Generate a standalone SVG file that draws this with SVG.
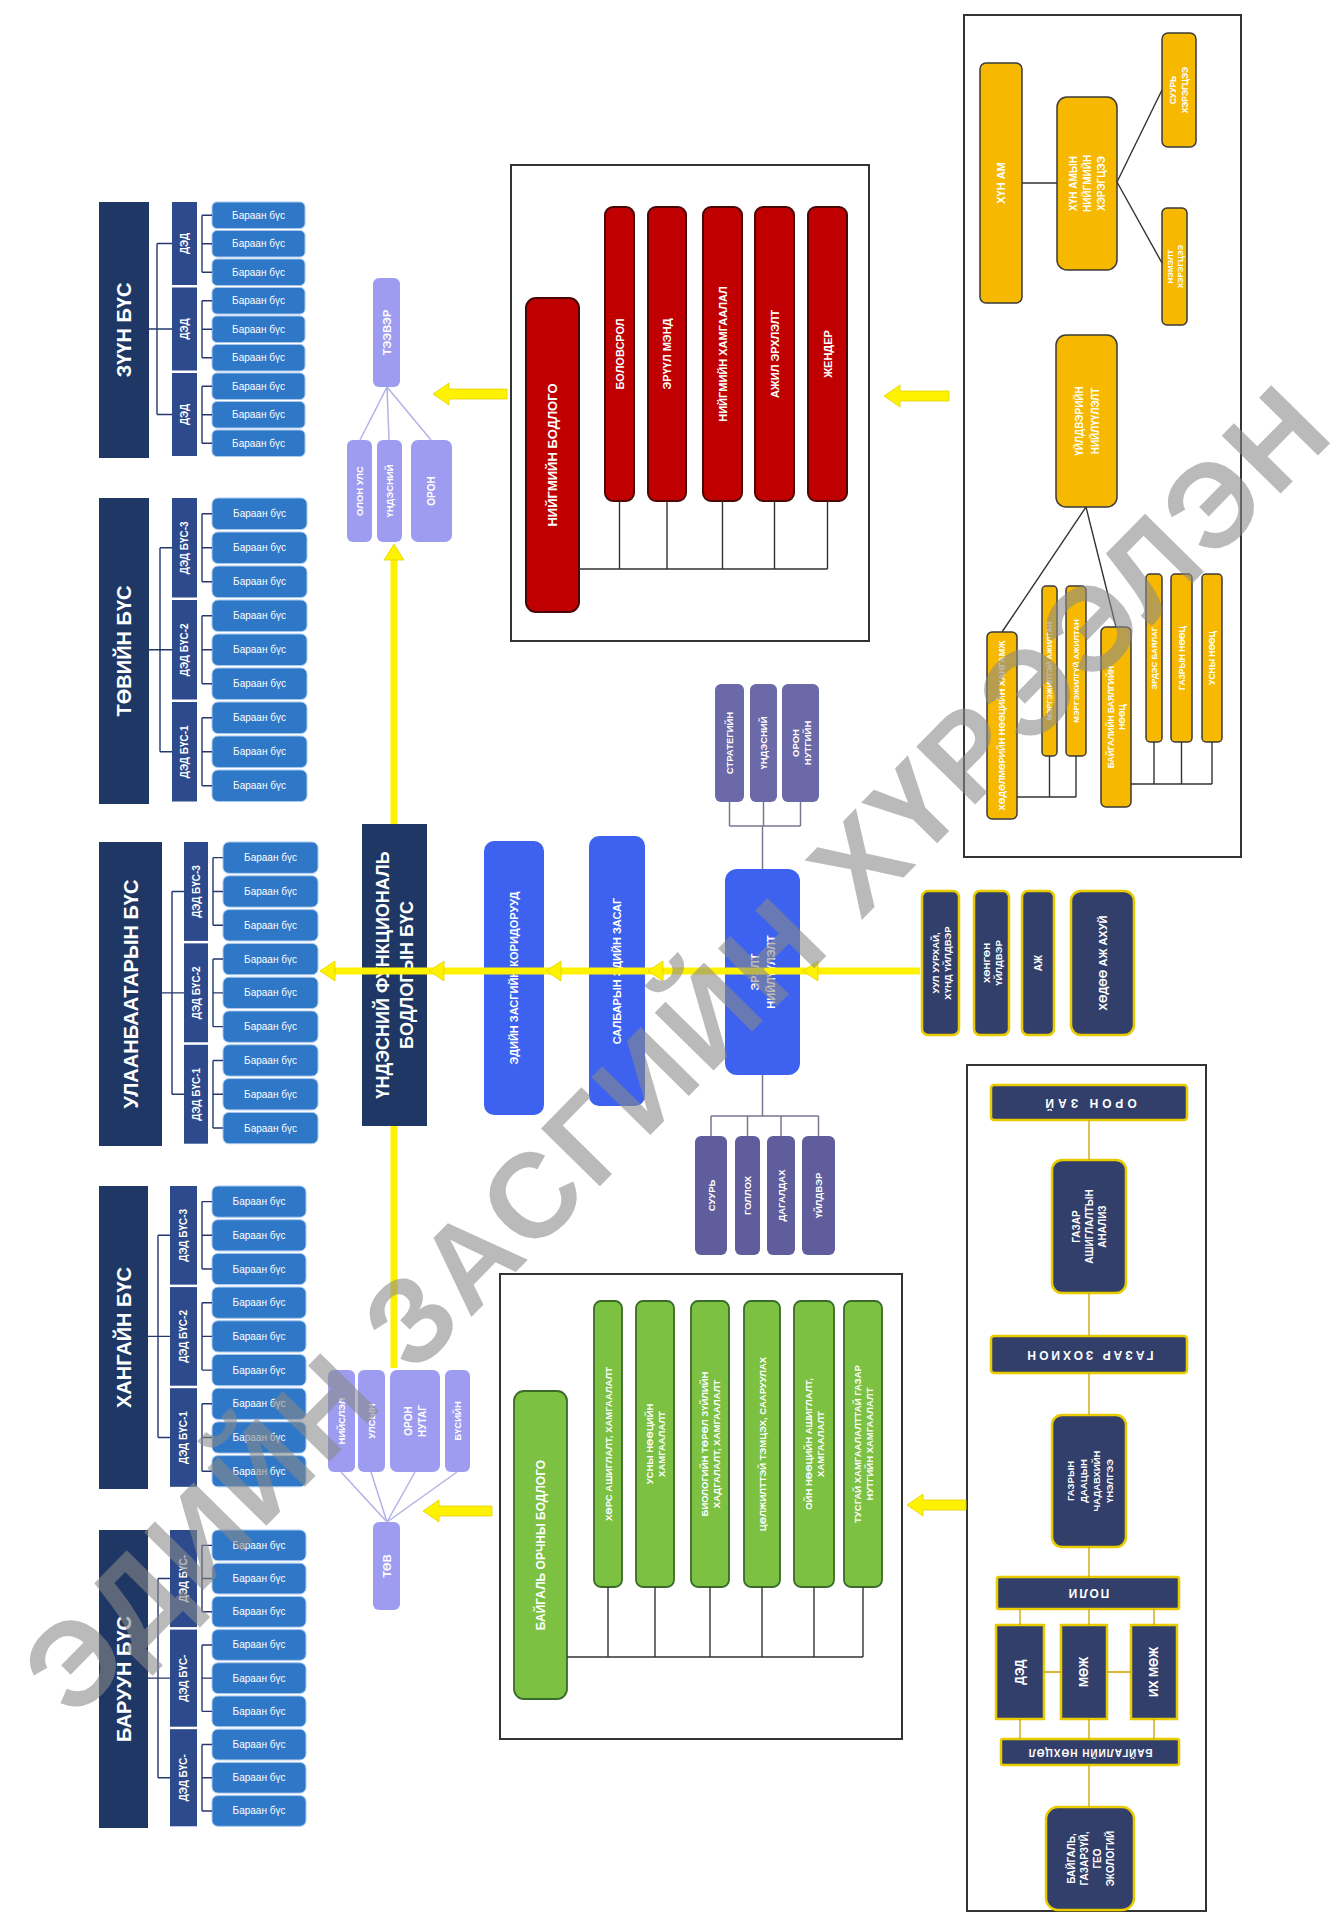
<svg xmlns="http://www.w3.org/2000/svg" width="1340" height="1914" viewBox="0 0 1340 1914">
<style>
.t{font-family:"Liberation Sans",Arial,sans-serif;fill:#fff;font-weight:bold;text-anchor:middle;dominant-baseline:central}
.s{font-weight:normal}
.zb{fill:#1e3765}
.dd{fill:#2c4a8c}
.sb{fill:#2f78c8;stroke:#a8c8ee;stroke-width:1}
.lz{stroke:#24386f;stroke-width:1.4;fill:none}
.lv{fill:#9d9cf0}
.sl{fill:#6b69a8}
.sl2{fill:#5f5d9c}
.bl{fill:#3c62ef}
.rd{fill:#c00000;stroke:#4a0505;stroke-width:2}
.gd{fill:#f7b900;stroke:#3a3a3a;stroke-width:1.5}
.gr{fill:#7cc142;stroke:#3b6b28;stroke-width:1.8}
.nv{fill:#333f6b;stroke:#e8cc00;stroke-width:2.5}
.fr{fill:#fff;stroke:#333;stroke-width:2}
.ln{stroke:#333;stroke-width:1.4;fill:none}
.lg{stroke:#c9a400;stroke-width:1.3;fill:none}
.lp{stroke:#b3b2e6;stroke-width:1.5;fill:none}
.lq{stroke:#777894;stroke-width:1.5;fill:none}
.yl{stroke:#fff200;stroke-width:7;fill:none}
.ya{fill:#fff200;stroke:#e2d200;stroke-width:0.8}
.wm{font-family:"Liberation Sans",Arial,sans-serif;font-weight:bold;fill:#8a8a8a;opacity:.58;text-anchor:middle;dominant-baseline:central}
</style>
<rect x="0" y="0" width="1340" height="1914" fill="#fff"/>

<g id="panels">
<rect id="panel-social" class="fr" x="511" y="165" width="358" height="476"/>
<rect id="panel-population" class="fr" x="964" y="15" width="277" height="842"/>
<rect id="panel-environment" class="fr" x="500" y="1274" width="402" height="465"/>
<rect id="panel-space" class="fr" x="967" y="1065" width="239" height="846"/>
</g>

<!-- ЗҮҮН БҮС -->
<g id="zone-zuun"><rect class="zb" x="99" y="202" width="50" height="256"/><text class="t" font-size="20" transform="translate(124 330) rotate(-90)">ЗҮҮН БҮС</text></g>
<g id="zuun-ded1"><rect class="dd" x="172" y="202" width="25" height="83"/><text class="t" font-size="10" transform="translate(184.5 243.5) rotate(-90)">ДЭД</text></g>
<g id="zuun-ded2"><rect class="dd" x="172" y="287.5" width="25" height="83"/><text class="t" font-size="10" transform="translate(184.5 329) rotate(-90)">ДЭД</text></g>
<g id="zuun-ded3"><rect class="dd" x="172" y="373" width="25" height="83"/><text class="t" font-size="10" transform="translate(184.5 414.5) rotate(-90)">ДЭД</text></g>
<g id="zuun-s1"><rect class="sb" x="212" y="202" width="93" height="26.5" rx="5"/><text class="t s" font-size="10" x="258.5" y="215.25">Бараан бүс</text></g>
<g id="zuun-s2"><rect class="sb" x="212" y="230.5" width="93" height="26.5" rx="5"/><text class="t s" font-size="10" x="258.5" y="243.75">Бараан бүс</text></g>
<g id="zuun-s3"><rect class="sb" x="212" y="259" width="93" height="26.5" rx="5"/><text class="t s" font-size="10" x="258.5" y="272.25">Бараан бүс</text></g>
<g id="zuun-s4"><rect class="sb" x="212" y="287.5" width="93" height="26.5" rx="5"/><text class="t s" font-size="10" x="258.5" y="300.75">Бараан бүс</text></g>
<g id="zuun-s5"><rect class="sb" x="212" y="316" width="93" height="26.5" rx="5"/><text class="t s" font-size="10" x="258.5" y="329.25">Бараан бүс</text></g>
<g id="zuun-s6"><rect class="sb" x="212" y="344.5" width="93" height="26.5" rx="5"/><text class="t s" font-size="10" x="258.5" y="357.75">Бараан бүс</text></g>
<g id="zuun-s7"><rect class="sb" x="212" y="373" width="93" height="26.5" rx="5"/><text class="t s" font-size="10" x="258.5" y="386.25">Бараан бүс</text></g>
<g id="zuun-s8"><rect class="sb" x="212" y="401.5" width="93" height="26.5" rx="5"/><text class="t s" font-size="10" x="258.5" y="414.75">Бараан бүс</text></g>
<g id="zuun-s9"><rect class="sb" x="212" y="430" width="93" height="26.5" rx="5"/><text class="t s" font-size="10" x="258.5" y="443.25">Бараан бүс</text></g>

<!-- ТӨВИЙН БҮС -->
<g id="zone-tuv"><rect class="zb" x="99" y="498" width="50" height="306"/><text class="t" font-size="20" transform="translate(124 651) rotate(-90)">ТӨВИЙН БҮС</text></g>
<g id="tuv-ded3"><rect class="dd" x="172" y="498" width="25" height="99.5"/><text class="t" font-size="10" transform="translate(184.5 547.75) rotate(-90)">ДЭД БҮС-3</text></g>
<g id="tuv-ded2"><rect class="dd" x="172" y="600" width="25" height="99.5"/><text class="t" font-size="10" transform="translate(184.5 649.75) rotate(-90)">ДЭД БҮС-2</text></g>
<g id="tuv-ded1"><rect class="dd" x="172" y="702" width="25" height="99.5"/><text class="t" font-size="10" transform="translate(184.5 751.75) rotate(-90)">ДЭД БҮС-1</text></g>
<g id="tuv-s1"><rect class="sb" x="212" y="498" width="95" height="31.5" rx="6"/><text class="t s" font-size="10" x="259.5" y="513.75">Бараан бүс</text></g>
<g id="tuv-s2"><rect class="sb" x="212" y="532" width="95" height="31.5" rx="6"/><text class="t s" font-size="10" x="259.5" y="547.75">Бараан бүс</text></g>
<g id="tuv-s3"><rect class="sb" x="212" y="566" width="95" height="31.5" rx="6"/><text class="t s" font-size="10" x="259.5" y="581.75">Бараан бүс</text></g>
<g id="tuv-s4"><rect class="sb" x="212" y="600" width="95" height="31.5" rx="6"/><text class="t s" font-size="10" x="259.5" y="615.75">Бараан бүс</text></g>
<g id="tuv-s5"><rect class="sb" x="212" y="634" width="95" height="31.5" rx="6"/><text class="t s" font-size="10" x="259.5" y="649.75">Бараан бүс</text></g>
<g id="tuv-s6"><rect class="sb" x="212" y="668" width="95" height="31.5" rx="6"/><text class="t s" font-size="10" x="259.5" y="683.75">Бараан бүс</text></g>
<g id="tuv-s7"><rect class="sb" x="212" y="702" width="95" height="31.5" rx="6"/><text class="t s" font-size="10" x="259.5" y="717.75">Бараан бүс</text></g>
<g id="tuv-s8"><rect class="sb" x="212" y="736" width="95" height="31.5" rx="6"/><text class="t s" font-size="10" x="259.5" y="751.75">Бараан бүс</text></g>
<g id="tuv-s9"><rect class="sb" x="212" y="770" width="95" height="31.5" rx="6"/><text class="t s" font-size="10" x="259.5" y="785.75">Бараан бүс</text></g>

<!-- УЛААНБААТАРЫН БҮС -->
<g id="zone-ub"><rect class="zb" x="99" y="842" width="63" height="304"/><text class="t" font-size="20" transform="translate(130.5 994) rotate(-90)">УЛААНБААТАРЫН БҮС</text></g>
<g id="ub-ded3"><rect class="dd" x="184" y="842" width="24" height="98.9"/><text class="t" font-size="10" transform="translate(196 891.45) rotate(-90)">ДЭД БҮС-3</text></g>
<g id="ub-ded2"><rect class="dd" x="184" y="943.4" width="24" height="98.9"/><text class="t" font-size="10" transform="translate(196 992.85) rotate(-90)">ДЭД БҮС-2</text></g>
<g id="ub-ded1"><rect class="dd" x="184" y="1044.8" width="24" height="98.9"/><text class="t" font-size="10" transform="translate(196 1094.25) rotate(-90)">ДЭД БҮС-1</text></g>
<g id="ub-s1"><rect class="sb" x="223" y="842" width="95" height="31.3" rx="6"/><text class="t s" font-size="10" x="270.5" y="857.65">Бараан бүс</text></g>
<g id="ub-s2"><rect class="sb" x="223" y="875.8" width="95" height="31.3" rx="6"/><text class="t s" font-size="10" x="270.5" y="891.45">Бараан бүс</text></g>
<g id="ub-s3"><rect class="sb" x="223" y="909.6" width="95" height="31.3" rx="6"/><text class="t s" font-size="10" x="270.5" y="925.25">Бараан бүс</text></g>
<g id="ub-s4"><rect class="sb" x="223" y="943.4" width="95" height="31.3" rx="6"/><text class="t s" font-size="10" x="270.5" y="959.05">Бараан бүс</text></g>
<g id="ub-s5"><rect class="sb" x="223" y="977.2" width="95" height="31.3" rx="6"/><text class="t s" font-size="10" x="270.5" y="992.85">Бараан бүс</text></g>
<g id="ub-s6"><rect class="sb" x="223" y="1011" width="95" height="31.3" rx="6"/><text class="t s" font-size="10" x="270.5" y="1026.65">Бараан бүс</text></g>
<g id="ub-s7"><rect class="sb" x="223" y="1044.8" width="95" height="31.3" rx="6"/><text class="t s" font-size="10" x="270.5" y="1060.45">Бараан бүс</text></g>
<g id="ub-s8"><rect class="sb" x="223" y="1078.6" width="95" height="31.3" rx="6"/><text class="t s" font-size="10" x="270.5" y="1094.25">Бараан бүс</text></g>
<g id="ub-s9"><rect class="sb" x="223" y="1112.4" width="95" height="31.3" rx="6"/><text class="t s" font-size="10" x="270.5" y="1128.05">Бараан бүс</text></g>

<!-- ХАНГАЙН БҮС -->
<g id="zone-khangai"><rect class="zb" x="99" y="1186" width="49" height="303"/><text class="t" font-size="20" transform="translate(123.5 1337.5) rotate(-90)">ХАНГАЙН БҮС</text></g>
<g id="khangai-ded3"><rect class="dd" x="170" y="1186" width="27" height="98.6"/><text class="t" font-size="10" transform="translate(183.5 1235.3) rotate(-90)">ДЭД БҮС-3</text></g>
<g id="khangai-ded2"><rect class="dd" x="170" y="1287.1" width="27" height="98.6"/><text class="t" font-size="10" transform="translate(183.5 1336.4) rotate(-90)">ДЭД БҮС-2</text></g>
<g id="khangai-ded1"><rect class="dd" x="170" y="1388.2" width="27" height="98.6"/><text class="t" font-size="10" transform="translate(183.5 1437.5) rotate(-90)">ДЭД БҮС-1</text></g>
<g id="khangai-s1"><rect class="sb" x="212" y="1186" width="94" height="31.2" rx="6"/><text class="t s" font-size="10" x="259" y="1201.6">Бараан бүс</text></g>
<g id="khangai-s2"><rect class="sb" x="212" y="1219.7" width="94" height="31.2" rx="6"/><text class="t s" font-size="10" x="259" y="1235.3">Бараан бүс</text></g>
<g id="khangai-s3"><rect class="sb" x="212" y="1253.4" width="94" height="31.2" rx="6"/><text class="t s" font-size="10" x="259" y="1269">Бараан бүс</text></g>
<g id="khangai-s4"><rect class="sb" x="212" y="1287.1" width="94" height="31.2" rx="6"/><text class="t s" font-size="10" x="259" y="1302.7">Бараан бүс</text></g>
<g id="khangai-s5"><rect class="sb" x="212" y="1320.8" width="94" height="31.2" rx="6"/><text class="t s" font-size="10" x="259" y="1336.4">Бараан бүс</text></g>
<g id="khangai-s6"><rect class="sb" x="212" y="1354.5" width="94" height="31.2" rx="6"/><text class="t s" font-size="10" x="259" y="1370.1">Бараан бүс</text></g>
<g id="khangai-s7"><rect class="sb" x="212" y="1388.2" width="94" height="31.2" rx="6"/><text class="t s" font-size="10" x="259" y="1403.8">Бараан бүс</text></g>
<g id="khangai-s8"><rect class="sb" x="212" y="1421.9" width="94" height="31.2" rx="6"/><text class="t s" font-size="10" x="259" y="1437.5">Бараан бүс</text></g>
<g id="khangai-s9"><rect class="sb" x="212" y="1455.6" width="94" height="31.2" rx="6"/><text class="t s" font-size="10" x="259" y="1471.2">Бараан бүс</text></g>

<!-- БАРУУН БҮС -->
<g id="zone-baruun"><rect class="zb" x="99" y="1530" width="49" height="298"/><text class="t" font-size="20" transform="translate(123.5 1679) rotate(-90)">БАРУУН БҮС</text></g>
<g id="baruun-ded3"><rect class="dd" x="170" y="1530" width="27" height="97.1"/><text class="t" font-size="10" transform="translate(183.5 1578.55) rotate(-90)">ДЭД БҮС-</text></g>
<g id="baruun-ded2"><rect class="dd" x="170" y="1629.6" width="27" height="97.1"/><text class="t" font-size="10" transform="translate(183.5 1678.15) rotate(-90)">ДЭД БҮС-</text></g>
<g id="baruun-ded1"><rect class="dd" x="170" y="1729.2" width="27" height="97.1"/><text class="t" font-size="10" transform="translate(183.5 1777.75) rotate(-90)">ДЭД БҮС-</text></g>
<g id="baruun-s1"><rect class="sb" x="212" y="1530" width="94" height="30.7" rx="6"/><text class="t s" font-size="10" x="259" y="1545.35">Бараан бүс</text></g>
<g id="baruun-s2"><rect class="sb" x="212" y="1563.2" width="94" height="30.7" rx="6"/><text class="t s" font-size="10" x="259" y="1578.55">Бараан бүс</text></g>
<g id="baruun-s3"><rect class="sb" x="212" y="1596.4" width="94" height="30.7" rx="6"/><text class="t s" font-size="10" x="259" y="1611.75">Бараан бүс</text></g>
<g id="baruun-s4"><rect class="sb" x="212" y="1629.6" width="94" height="30.7" rx="6"/><text class="t s" font-size="10" x="259" y="1644.95">Бараан бүс</text></g>
<g id="baruun-s5"><rect class="sb" x="212" y="1662.8" width="94" height="30.7" rx="6"/><text class="t s" font-size="10" x="259" y="1678.15">Бараан бүс</text></g>
<g id="baruun-s6"><rect class="sb" x="212" y="1696" width="94" height="30.7" rx="6"/><text class="t s" font-size="10" x="259" y="1711.35">Бараан бүс</text></g>
<g id="baruun-s7"><rect class="sb" x="212" y="1729.2" width="94" height="30.7" rx="6"/><text class="t s" font-size="10" x="259" y="1744.55">Бараан бүс</text></g>
<g id="baruun-s8"><rect class="sb" x="212" y="1762.4" width="94" height="30.7" rx="6"/><text class="t s" font-size="10" x="259" y="1777.75">Бараан бүс</text></g>
<g id="baruun-s9"><rect class="sb" x="212" y="1795.6" width="94" height="30.7" rx="6"/><text class="t s" font-size="10" x="259" y="1810.95">Бараан бүс</text></g>

<!-- Main -->
<g id="main"><rect class="zb" x="362" y="824" width="65" height="302"/><text class="t" font-size="18" transform="translate(394.5 975) rotate(-90)"><tspan x="0" y="-12">ҮНДЭСНИЙ ФУНКЦИОНАЛЬ</tspan><tspan x="0" y="12">БОДЛОГЫН БҮС</tspan></text></g>

<!-- Transport cluster -->
<g id="teever"><rect class="lv" x="373" y="278" width="27" height="109" rx="6"/><text class="t" font-size="11" transform="translate(386.5 332.5) rotate(-90)">ТЭЭВЭР</text></g>
<g id="teever-1"><rect class="lv" x="347" y="440" width="25" height="102" rx="6"/><text class="t" font-size="9.5" transform="translate(359.5 491) rotate(-90)">ОЛОН УЛС</text></g>
<g id="teever-2"><rect class="lv" x="377" y="440" width="25" height="102" rx="6"/><text class="t" font-size="9.5" transform="translate(389.5 491) rotate(-90)">ҮНДЭСНИЙ</text></g>
<g id="teever-3"><rect class="lv" x="411" y="440" width="41" height="102" rx="7"/><text class="t" font-size="10" transform="translate(431.5 491) rotate(-90)">ОРОН</text></g>

<!-- Center cluster -->
<g id="tuv"><rect class="lv" x="373" y="1522" width="27" height="88" rx="6"/><text class="t" font-size="11" transform="translate(386.5 1566) rotate(-90)">ТӨВ</text></g>
<g id="tuv-1"><rect class="lv" x="328" y="1370" width="27" height="102" rx="6"/><text class="t" font-size="9.5" transform="translate(341.5 1421) rotate(-90)">НИЙСЛЭЛ</text></g>
<g id="tuv-2"><rect class="lv" x="358" y="1370" width="27" height="102" rx="6"/><text class="t" font-size="9.5" transform="translate(371.5 1421) rotate(-90)">УЛСЫН</text></g>
<g id="tuv-3"><rect class="lv" x="390" y="1370" width="50" height="102" rx="7"/><text class="t" font-size="10" transform="translate(415 1421) rotate(-90)"><tspan x="0" y="-7">ОРОН</tspan><tspan x="0" y="7">НУТАГ</tspan></text></g>
<g id="tuv-4"><rect class="lv" x="445" y="1370" width="25" height="102" rx="6"/><text class="t" font-size="9.5" transform="translate(457.5 1421) rotate(-90)">БҮСИЙН</text></g>

<!-- Blue boxes -->
<g id="corridor"><rect class="bl" x="484" y="841" width="60" height="274" rx="10"/><text class="t" font-size="11" transform="translate(514 978) rotate(-90)">ЭДИЙН ЗАСГИЙН КОРИДОРУУД</text></g>
<g id="sector"><rect class="bl" x="589" y="836" width="56" height="270" rx="10"/><text class="t" font-size="11" transform="translate(617 971) rotate(-90)">САЛБАРЫН ЭДИЙН ЗАСАГ</text></g>
<g id="demand"><rect class="bl" x="725" y="869" width="75" height="206" rx="12"/><text class="t" font-size="11" transform="translate(762.5 972) rotate(-90)"><tspan x="0" y="-8">ЭРЭЛТ</tspan><tspan x="0" y="8">НИЙЛҮҮЛЭЛТ</tspan></text></g>

<!-- Slate boxes -->
<g id="lvl-1"><rect class="sl" x="715" y="684" width="29" height="118" rx="6"/><text class="t" font-size="9.5" transform="translate(729.5 743) rotate(-90)">СТРАТЕГИЙН</text></g>
<g id="lvl-2"><rect class="sl" x="750" y="684" width="27" height="118" rx="6"/><text class="t" font-size="9.5" transform="translate(763.5 743) rotate(-90)">ҮНДЭСНИЙ</text></g>
<g id="lvl-3"><rect class="sl" x="782" y="684" width="37" height="118" rx="6"/><text class="t" font-size="9.5" transform="translate(800.5 743) rotate(-90)"><tspan x="0" y="-6">ОРОН</tspan><tspan x="0" y="6">НУТГИЙН</tspan></text></g>
<g id="ind-1"><rect class="sl2" x="695" y="1136" width="32" height="119" rx="6"/><text class="t" font-size="9.5" transform="translate(711 1195.5) rotate(-90)">СУУРЬ</text></g>
<g id="ind-2"><rect class="sl2" x="735" y="1136" width="25" height="119" rx="6"/><text class="t" font-size="9.5" transform="translate(747.5 1195.5) rotate(-90)">ГОЛЛОХ</text></g>
<g id="ind-3"><rect class="sl2" x="767" y="1136" width="28" height="119" rx="6"/><text class="t" font-size="9.5" transform="translate(781 1195.5) rotate(-90)">ДАГАЛДАХ</text></g>
<g id="ind-4"><rect class="sl2" x="802" y="1136" width="33" height="119" rx="6"/><text class="t" font-size="9.5" transform="translate(818.5 1195.5) rotate(-90)">ҮЙЛДВЭР</text></g>

<!-- Right navy sector boxes -->
<g id="sec-mining"><rect class="nv" x="922" y="891" width="37" height="144" rx="6"/><text class="t" font-size="9.5" transform="translate(940.5 963) rotate(-90)"><tspan x="0" y="-6">УУЛ УУРХАЙ,</tspan><tspan x="0" y="6">ХҮНД ҮЙЛДВЭР</tspan></text></g>
<g id="sec-light"><rect class="nv" x="974" y="891" width="35" height="144" rx="6"/><text class="t" font-size="9.5" transform="translate(991.5 963) rotate(-90)"><tspan x="0" y="-6">ХӨНГӨН</tspan><tspan x="0" y="6">ҮЙЛДВЭР</tspan></text></g>
<g id="sec-aj"><rect class="nv" x="1022" y="891" width="32" height="144" rx="6"/><text class="t" font-size="10" transform="translate(1038 963) rotate(-90)">АЖ</text></g>
<g id="sec-agri"><rect class="nv" x="1071" y="891" width="63" height="144" rx="10"/><text class="t" font-size="11" transform="translate(1102.5 963) rotate(-90)">ХӨДӨӨ АЖ АХУЙ</text></g>

<!-- Red panel -->
<g id="social-policy"><rect class="rd" x="526" y="298" width="53" height="314" rx="10"/><text class="t" font-size="13" transform="translate(552.5 455) rotate(-90)">НИЙГМИЙН БОДЛОГО</text></g>
<g id="soc-1"><rect class="rd" x="605" y="207" width="29" height="294" rx="8"/><text class="t" font-size="11" transform="translate(619.5 354) rotate(-90)">БОЛОВСРОЛ</text></g>
<g id="soc-2"><rect class="rd" x="648" y="207" width="38" height="294" rx="8"/><text class="t" font-size="11" transform="translate(667 354) rotate(-90)">ЭРҮҮЛ МЭНД</text></g>
<g id="soc-3"><rect class="rd" x="703" y="207" width="39" height="294" rx="8"/><text class="t" font-size="11" transform="translate(722.5 354) rotate(-90)">НИЙГМИЙН ХАМГААЛАЛ</text></g>
<g id="soc-4"><rect class="rd" x="755" y="207" width="39" height="294" rx="8"/><text class="t" font-size="11" transform="translate(774.5 354) rotate(-90)">АЖИЛ ЭРХЛЭЛТ</text></g>
<g id="soc-5"><rect class="rd" x="808" y="207" width="39" height="294" rx="8"/><text class="t" font-size="11" transform="translate(827.5 354) rotate(-90)">ЖЕНДЕР</text></g>

<!-- Gold panel -->
<g id="pop"><rect class="gd" x="980" y="63" width="42" height="240" rx="6"/><text class="t" font-size="11" transform="translate(1001 183) rotate(-90)">ХҮН АМ</text></g>
<g id="social-need"><rect class="gd" x="1057" y="97" width="60" height="173" rx="10"/><text class="t" font-size="10" transform="translate(1087 183.5) rotate(-90)"><tspan x="0" y="-14">ХҮН АМЫН</tspan><tspan x="0" y="0">НИЙГМИЙН</tspan><tspan x="0" y="14">ХЭРЭГЦЭЭ</tspan></text></g>
<g id="need-1"><rect class="gd" x="1162" y="33" width="34" height="114" rx="6"/><text class="t" font-size="8.5" transform="translate(1179 90) rotate(-90)"><tspan x="0" y="-6">СУУРЬ</tspan><tspan x="0" y="6">ХЭРЭГЦЭЭ</tspan></text></g>
<g id="need-2"><rect class="gd" x="1162" y="208" width="25" height="117" rx="5"/><text class="t" font-size="8" transform="translate(1174.5 266.5) rotate(-90)"><tspan x="0" y="-5">НЭМЭЛТ</tspan><tspan x="0" y="5">ХЭРЭГЦЭЭ</tspan></text></g>
<g id="supply"><rect class="gd" x="1056" y="335" width="61" height="172" rx="10"/><text class="t" font-size="10" transform="translate(1086.5 421) rotate(-90)"><tspan x="0" y="-8">ҮЙЛДВЭРИЙН</tspan><tspan x="0" y="8">НИЙЛҮҮЛЭЛТ</tspan></text></g>
<g id="labor"><rect class="gd" x="987" y="632" width="30" height="187" rx="5"/><text class="t" font-size="9" transform="translate(1002 725.5) rotate(-90)">ХӨДӨЛМӨРИЙН НӨӨЦИЙН ХАНГАМЖ</text></g>
<g id="labor-1"><rect class="gd" x="1042" y="586" width="15" height="170" rx="4"/><text class="t" font-size="7.5" transform="translate(1049.5 671) rotate(-90)">МЭРГЭЖИЛТЭЙ АЖИЛТАН</text></g>
<g id="labor-2"><rect class="gd" x="1066" y="586" width="20" height="170" rx="4"/><text class="t" font-size="8" transform="translate(1076 671) rotate(-90)">МЭРГЭЖИЛГҮЙ АЖИЛТАН</text></g>
<g id="resource"><rect class="gd" x="1101" y="627" width="30" height="180" rx="5"/><text class="t" font-size="8.5" transform="translate(1116 717) rotate(-90)"><tspan x="0" y="-5.5">БАЙГАЛИЙН БАЯЛГИЙН</tspan><tspan x="0" y="5.5">НӨӨЦ</tspan></text></g>
<g id="res-1"><rect class="gd" x="1146" y="574" width="16" height="168" rx="4"/><text class="t" font-size="8" transform="translate(1154 658) rotate(-90)">ЭРДЭС БАЯЛАГ</text></g>
<g id="res-2"><rect class="gd" x="1171" y="574" width="21" height="168" rx="4"/><text class="t" font-size="8.5" transform="translate(1181.5 658) rotate(-90)">ГАЗРЫН НӨӨЦ</text></g>
<g id="res-3"><rect class="gd" x="1202" y="574" width="20" height="168" rx="4"/><text class="t" font-size="8.5" transform="translate(1212 658) rotate(-90)">УСНЫ НӨӨЦ</text></g>

<!-- Green panel -->
<g id="env-policy"><rect class="gr" x="514" y="1391" width="53" height="308" rx="10"/><text class="t" font-size="12" transform="translate(540.5 1545) rotate(-90)">БАЙГАЛЬ ОРЧНЫ БОДЛОГО</text></g>
<g id="env-1"><rect class="gr" x="594" y="1301" width="28" height="286" rx="7"/><text class="t" font-size="9.5" transform="translate(608 1444) rotate(-90)">ХӨРС АШИГЛАЛТ, ХАМГААЛАЛТ</text></g>
<g id="env-2"><rect class="gr" x="636" y="1301" width="38" height="286" rx="7"/><text class="t" font-size="9.5" transform="translate(655 1444) rotate(-90)"><tspan x="0" y="-6">УСНЫ НӨӨЦИЙН</tspan><tspan x="0" y="6">ХАМГААЛАЛТ</tspan></text></g>
<g id="env-3"><rect class="gr" x="691" y="1301" width="38" height="286" rx="7"/><text class="t" font-size="9.5" transform="translate(710 1444) rotate(-90)"><tspan x="0" y="-6">БИОЛОГИЙН ТӨРӨЛ ЗҮЙЛИЙН</tspan><tspan x="0" y="6">ХАДГАЛАЛТ, ХАМГААЛАЛТ</tspan></text></g>
<g id="env-4"><rect class="gr" x="744" y="1301" width="36" height="286" rx="7"/><text class="t" font-size="9.5" transform="translate(762 1444) rotate(-90)">ЦӨЛЖИЛТТЭЙ ТЭМЦЭХ, СААРУУЛАХ</text></g>
<g id="env-5"><rect class="gr" x="794" y="1301" width="40" height="286" rx="7"/><text class="t" font-size="9.5" transform="translate(814 1444) rotate(-90)"><tspan x="0" y="-6">ОЙН НӨӨЦИЙН АШИГЛАЛТ,</tspan><tspan x="0" y="6">ХАМГААЛАЛТ</tspan></text></g>
<g id="env-6"><rect class="gr" x="844" y="1301" width="38" height="286" rx="7"/><text class="t" font-size="9.5" transform="translate(863 1444) rotate(-90)"><tspan x="0" y="-6">ТУСГАЙ ХАМГААЛАЛТТАЙ ГАЗАР</tspan><tspan x="0" y="6">НУТГИЙН ХАМГААЛАЛТ</tspan></text></g>

<!-- Space panel -->
<g id="oron-zai"><rect class="nv" x="991" y="1085" width="196" height="35" rx="3"/><text class="t" font-size="12" letter-spacing="4" transform="translate(1089 1102.5) rotate(180)">ОРОН ЗАЙ</text></g>
<g id="land-use"><rect class="nv" x="1052" y="1160" width="74" height="133" rx="10"/><text class="t" font-size="10" transform="translate(1089 1226.5) rotate(-90)"><tspan x="0" y="-13">ГАЗАР</tspan><tspan x="0" y="0">АШИГЛАЛТЫН</tspan><tspan x="0" y="13">АНАЛИЗ</tspan></text></g>
<g id="gazar-zokhion"><rect class="nv" x="991" y="1336" width="196" height="37" rx="3"/><text class="t" font-size="12" letter-spacing="3" transform="translate(1089 1354.5) rotate(180)">ГАЗАР ЗОХИОН</text></g>
<g id="capacity"><rect class="nv" x="1052" y="1415" width="74" height="132" rx="10"/><text class="t" font-size="9.5" transform="translate(1089 1481) rotate(-90)"><tspan x="0" y="-19.5">ГАЗРЫН</tspan><tspan x="0" y="-6.5">ДААЦЫН</tspan><tspan x="0" y="6.5">ЧАДАВХИЙН</tspan><tspan x="0" y="19.5">ҮНЭЛГЭЭ</tspan></text></g>
<g id="poli"><rect class="nv" x="997" y="1577" width="182" height="32" rx="2"/><text class="t" font-size="12" letter-spacing="2" transform="translate(1088 1593) rotate(180)">ПОЛИ</text></g>
<g id="ded"><rect class="nv" x="996" y="1625" width="48" height="94"/><text class="t" font-size="12" transform="translate(1020 1672) rotate(-90)">ДЭД</text></g>
<g id="moj"><rect class="nv" x="1061" y="1625" width="46" height="94"/><text class="t" font-size="12" transform="translate(1084 1672) rotate(-90)">МӨЖ</text></g>
<g id="ikh-moj"><rect class="nv" x="1131" y="1625" width="46" height="94"/><text class="t" font-size="12" transform="translate(1154 1672) rotate(-90)">ИХ МӨЖ</text></g>
<g id="nature-cond"><rect class="nv" x="1001" y="1739" width="178" height="26" rx="2"/><text class="t" font-size="10" letter-spacing="1" transform="translate(1090 1752) rotate(180)">БАЙГАЛИЙН НӨХЦӨЛ</text></g>
<g id="geo"><rect class="nv" x="1046" y="1807" width="88" height="103" rx="12"/><text class="t" font-size="10" transform="translate(1090 1858.5) rotate(-90)"><tspan x="0" y="-19.5">БАЙГАЛЬ,</tspan><tspan x="0" y="-6.5">ГАЗАРЗҮЙ,</tspan><tspan x="0" y="6.5">ГЕО</tspan><tspan x="0" y="19.5">ЭКОЛОГИЙ</tspan></text></g>

<g id="connectors">
<path class="lz" d="M149 329H157M157 243.5V414.5M157 243.5H172M157 329H172M157 414.5H172
M202 215.25V272.25M202 215.25H212M202 243.75H212M202 272.25H212
M202 300.75V357.75M202 300.75H212M202 329.25H212M202 357.75H212
M202 386.25V443.25M202 386.25H212M202 414.75H212M202 443.25H212"/>
<path class="lz" d="M149 649.75H160M160 547.75V751.75M160 547.75H172M160 649.75H172M160 751.75H172
M202 513.75V581.75M202 513.75H212M202 547.75H212M202 581.75H212
M202 615.75V683.75M202 615.75H212M202 649.75H212M202 683.75H212
M202 717.75V785.75M202 717.75H212M202 751.75H212M202 785.75H212"/>
<path class="lz" d="M162 992.85H172M172 891.45V1094.25M172 891.45H184M172 992.85H184M172 1094.25H184
M213 857.65V925.25M213 857.65H223M213 891.45H223M213 925.25H223
M213 959.05V1026.65M213 959.05H223M213 992.85H223M213 1026.65H223
M213 1060.45V1128.05M213 1060.45H223M213 1094.25H223M213 1128.05H223"/>
<path class="lz" d="M148 1336.4H158M158 1235.3V1437.5M158 1235.3H170M158 1336.4H170M158 1437.5H170
M202 1201.6V1269M202 1201.6H212M202 1235.3H212M202 1269H212
M202 1302.7V1370.1M202 1302.7H212M202 1336.4H212M202 1370.1H212
M202 1403.8V1471.2M202 1403.8H212M202 1437.5H212M202 1471.2H212"/>
<path class="lz" d="M148 1678.15H158M158 1578.55V1777.75M158 1578.55H170M158 1678.15H170M158 1777.75H170
M202 1545.35V1611.75M202 1545.35H212M202 1578.55H212M202 1611.75H212
M202 1644.95V1711.35M202 1644.95H212M202 1678.15H212M202 1711.35H212
M202 1744.55V1810.95M202 1744.55H212M202 1777.75H212M202 1810.95H212"/>
<path class="lp" d="M387 387L360 440M387 387L389 440M387 387L431 440"/>
<path class="lp" d="M387 1522L341 1472M387 1522L371 1472M387 1522L415 1472M387 1522L457 1472"/>
<path class="lq" d="M762.5 869V826M729.5 826H800.5M729.5 826V802M763.5 826V802M800.5 826V802"/>
<path class="lq" d="M762.5 1075V1116M711 1116H818.5M711 1116V1136M747.5 1116V1136M781 1116V1136M818.5 1116V1136"/>
<path class="ln" d="M579 569H827.5M619.5 501V569M667 501V569M722.5 501V569M774.5 501V569M827.5 501V569"/>
<path class="ln" d="M567 1657H863M608 1587V1657M655 1587V1657M710 1587V1657M762 1587V1657M814 1587V1657M863 1587V1657"/>
<path class="ln" d="M1022 183H1057M1117 182L1162 90M1117 182L1162 263M1086 507L1002 632M1086 507L1116 627
M1017 797H1076M1049.5 756V797M1076 756V797
M1131 784H1212M1154 742V784M1181.5 742V784M1212 742V784"/>
<path class="lg" d="M1089 1120V1160M1089 1293V1336M1089 1373V1415M1089 1547V1577M1089 1609V1625M1089 1719V1739M1089 1765V1807
M1020 1609V1625M1154 1609V1625M1020 1719V1739M1154 1719V1739M1044 1672H1061M1107 1672H1131"/>
<path class="yl" d="M394 824V556M394 1126V1368M920 971H326"/>
<polygon class="ya" points="394,544 384,560 404,560"/>
<polygon class="ya" points="320,971 335,961 335,981"/>
<polygon class="ya" points="429,971 444,961 444,981"/>
<polygon class="ya" points="546,971 561,961 561,981"/>
<polygon class="ya" points="648,971 663,961 663,981"/>
<polygon class="ya" points="803,971 818,961 818,981"/>
<polygon class="ya" points="433,394 449,383 449,389 507,389 507,399 449,399 449,405"/>
<polygon class="ya" points="884,396 900,385 900,391 949,391 949,401 900,401 900,407"/>
<polygon class="ya" points="423,1511 439,1500 439,1506 492,1506 492,1516 439,1516 439,1522"/>
<polygon class="ya" points="907,1505 923,1494 923,1500 966,1500 966,1510 923,1510 923,1516"/>
</g>

<text class="wm" font-size="120" textLength="1800" lengthAdjust="spacing" transform="translate(675 1050) rotate(-45.5)">ЭДИЙН ЗАСГИЙН ХҮРЭЭЛЭН</text>
</svg>
